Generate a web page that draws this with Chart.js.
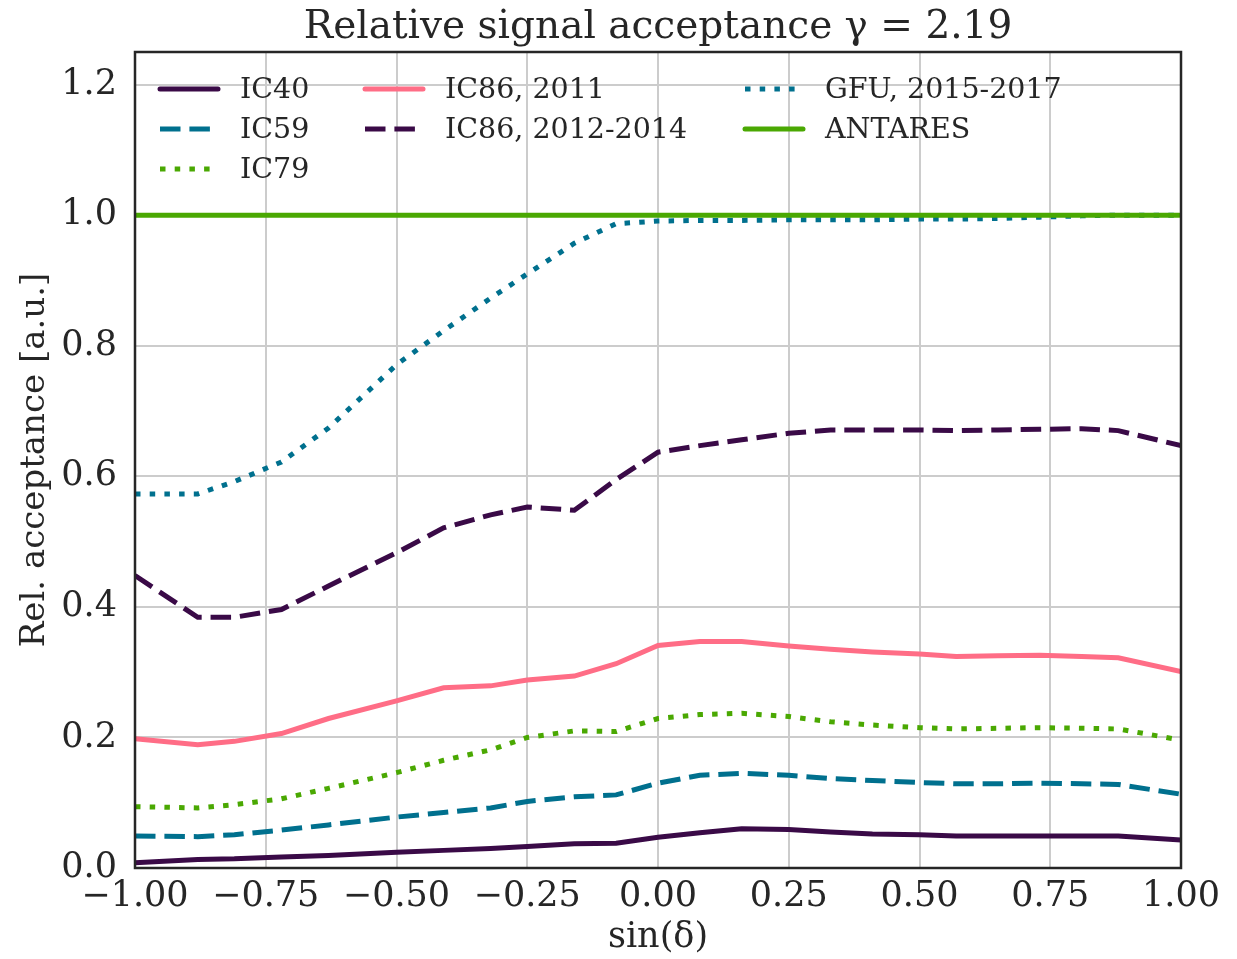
<!DOCTYPE html>
<html>
<head>
<meta charset="utf-8">
<script src="https://cdn.jsdelivr.net/npm/chart.js@4.4.0/dist/chart.umd.min.js"></script>
<style>
  body { margin: 0; background: #fff; }
  #wrap { width: 1237px; height: 959px; }
</style>
</head>
<body>
<div id="wrap"><canvas id="accChart"></canvas></div>
<script>
// sin(delta) sample points
const sinDec = [-1.0, -0.88, -0.81, -0.72, -0.63, -0.5, -0.41, -0.32, -0.25, -0.16, -0.08, 0.0,
  0.08, 0.16, 0.25, 0.33, 0.41, 0.5, 0.57, 0.65, 0.73, 0.81, 0.88, 1.0];

const ic40 = [0.008, 0.013, 0.014, 0.017, 0.019, 0.024, 0.027, 0.030, 0.033, 0.037, 0.038, 0.047,
  0.054, 0.060, 0.059, 0.055, 0.052, 0.051, 0.049, 0.049, 0.049, 0.049, 0.049, 0.043];
const ic59 = [0.049, 0.048, 0.051, 0.058, 0.066, 0.078, 0.085, 0.092, 0.102, 0.109, 0.112, 0.130,
  0.142, 0.145, 0.142, 0.137, 0.134, 0.131, 0.129, 0.129, 0.130, 0.129, 0.128, 0.113];
const ic79 = [0.094, 0.092, 0.097, 0.106, 0.122, 0.146, 0.165, 0.181, 0.200, 0.210, 0.209, 0.229,
  0.235, 0.237, 0.232, 0.224, 0.219, 0.215, 0.213, 0.214, 0.215, 0.214, 0.213, 0.196];
const ic86_2011 = [0.198, 0.189, 0.194, 0.206, 0.229, 0.256, 0.276, 0.279, 0.288, 0.294, 0.313, 0.341,
  0.347, 0.347, 0.340, 0.335, 0.331, 0.328, 0.324, 0.325, 0.326, 0.324, 0.322, 0.301];
const ic86_2012 = [0.448, 0.384, 0.384, 0.396, 0.432, 0.483, 0.521, 0.541, 0.553, 0.548, 0.595, 0.637,
  0.647, 0.656, 0.666, 0.671, 0.671, 0.671, 0.670, 0.671, 0.672, 0.673, 0.670, 0.647];
const gfu = [0.573, 0.573, 0.592, 0.622, 0.674, 0.771, 0.823, 0.873, 0.910, 0.957, 0.987, 0.991,
  0.992, 0.992, 0.993, 0.993, 0.993, 0.994, 0.994, 0.995, 0.997, 0.999, 1.0, 1.0];
const antares = [1.0, 1.0, 1.0, 1.0, 1.0, 1.0, 1.0, 1.0, 1.0, 1.0, 1.0, 1.0,
  1.0, 1.0, 1.0, 1.0, 1.0, 1.0, 1.0, 1.0, 1.0, 1.0, 1.0, 1.0];

const xTicks = [-1.0, -0.75, -0.5, -0.25, 0.0, 0.25, 0.5, 0.75, 1.0];
const yTicks = [0.0, 0.2, 0.4, 0.6, 0.8, 1.0, 1.2];

const SERIF = "'DejaVu Serif', serif";
const TXT = "#262626";
const DASH = [20.5, 8.9];
const DOT = [5.5, 9.2];

const toPts = (ys) => ys.map((y, i) => ({ x: sinDec[i], y: y }));

const series = [
  { label: "IC40", data: ic40, color: "#3a0a47", dash: [] },
  { label: "IC59", data: ic59, color: "#00708e", dash: DASH },
  { label: "IC79", data: ic79, color: "#4aa802", dash: DOT },
  { label: "IC86, 2011", data: ic86_2011, color: "#ff6d86", dash: [] },
  { label: "IC86, 2012-2014", data: ic86_2012, color: "#3a0a47", dash: DASH },
  { label: "GFU, 2015-2017", data: gfu, color: "#00708e", dash: DOT },
  { label: "ANTARES", data: antares, color: "#4aa802", dash: [] },
];

// legend drawn in columns like matplotlib (ncol=3)
const legendCols = [[0, 1, 2], [3, 4], [5, 6]];
const legendColX = [25, 230, 610];

const frameAndLegend = {
  id: "frameAndLegend",
  afterDatasetsDraw(chart) {
    const { ctx, chartArea: a } = chart;
    ctx.save();
    ctx.strokeStyle = TXT;
    ctx.lineWidth = 2.5;
    ctx.strokeRect(a.left, a.top, a.right - a.left, a.bottom - a.top);

    ctx.font = "28.5px " + SERIF;
    ctx.textBaseline = "middle";
    ctx.fillStyle = TXT;
    legendCols.forEach((col, c) => {
      col.forEach((idx, r) => {
        const ds = chart.data.datasets[idx];
        const x0 = a.left + legendColX[c];
        const y0 = a.top + 37 + r * 40;
        ctx.beginPath();
        ctx.setLineDash(ds.borderDash || []);
        ctx.lineCap = ds.borderDash && ds.borderDash.length ? "butt" : "round";
        ctx.strokeStyle = ds.borderColor;
        ctx.lineWidth = 5;
        ctx.moveTo(x0, y0);
        ctx.lineTo(x0 + 58, y0);
        ctx.stroke();
        ctx.setLineDash([]);
        ctx.fillText(ds.label, x0 + 80, y0 + 2);
      });
    });

    // title
    ctx.font = "39px " + SERIF;
    ctx.textAlign = "center";
    ctx.fillText("Relative signal acceptance \u03B3 = 2.19", (a.left + a.right) / 2, 28);
    ctx.restore();
  },
};

const chartData = {
  datasets: series.map((s, i) => ({
    label: s.label,
    data: toPts(s.data),
    borderColor: s.color,
    backgroundColor: s.color,
    borderWidth: 5,
    borderDash: s.dash,
    borderCapStyle: "butt",
    pointRadius: 0,
    tension: 0,
    fill: false,
    order: series.length - i,
  })),
};

const chartConfig = {
  type: "line",
  data: chartData,
  options: {
    responsive: true,
    maintainAspectRatio: false,
    animation: false,
    layout: { padding: { top: 52, right: 56, left: 0, bottom: 0 } },
    scales: {
      x: {
        type: "linear",
        min: -1,
        max: 1,
        afterBuildTicks: (scale) => { scale.ticks = xTicks.map((v) => ({ value: v })); },
        afterFit: (scale) => { scale.height = 91; },
        grid: { color: "#cccccc", lineWidth: 2, drawTicks: false },
        border: { display: false },
        ticks: {
          padding: 8,
          color: TXT,
          font: { family: SERIF, size: 35 },
          maxRotation: 0,
          callback: (v) => v.toFixed(2).replace("-", "\u2212"),
        },
        title: {
          display: true,
          text: "sin(\u03B4)",
          color: TXT,
          font: { family: SERIF, size: 35 },
          padding: { top: 0, bottom: 0 },
        },
      },
      y: {
        min: 0,
        max: 1.25,
        afterBuildTicks: (scale) => { scale.ticks = yTicks.map((v) => ({ value: v })); },
        afterFit: (scale) => { scale.width = 135; },
        grid: { color: "#cccccc", lineWidth: 2, drawTicks: false },
        border: { display: false },
        ticks: {
          padding: 18,
          color: TXT,
          font: { family: SERIF, size: 35 },
          callback: (v) => v.toFixed(1),
        },
        title: {
          display: true,
          text: "Rel. acceptance [a.u.]",
          color: TXT,
          font: { family: SERIF, size: 34 },
          padding: { top: 15, bottom: 0 },
        },
      },
    },
    plugins: {
      legend: { display: false },
      tooltip: { enabled: false },
    },
  },
  plugins: [frameAndLegend],
};

const accChart = new Chart(document.getElementById("accChart"), chartConfig);
</script>
</body>
</html>
